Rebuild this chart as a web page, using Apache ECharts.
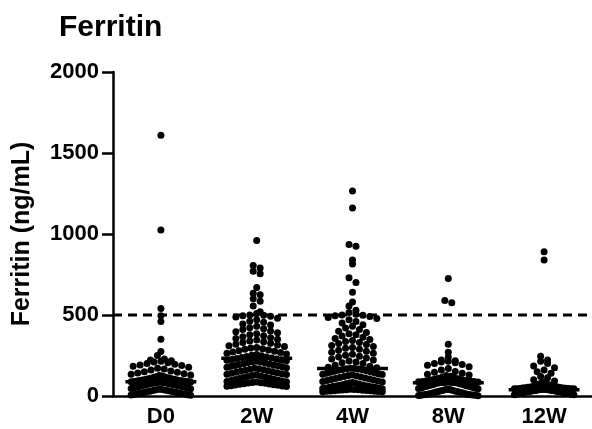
<!DOCTYPE html>
<html>
<head>
<meta charset="utf-8">
<script src="https://cdn.jsdelivr.net/npm/echarts@6/dist/echarts.min.js"></script>
<style>html,body{margin:0;padding:0;background:#fff}#c{width:592px;height:429px}</style>
</head>
<body>
<div id="c"></div>
<script>
const CATEGORIES = ['D0', '2W', '4W', '8W', '12W'];
const TITLE = 'Ferritin';
const Y_NAME = 'Ferritin (ng/mL)';
const THRESHOLD = 500;

const D0 = [1610,1025,540,495,460,350,275,250,228,222,218,214,210,206,200,196,192,188,184,178,172,166,160,155,150,146,142,138,134,130,127,124,121,118,115,112,110,108,106,104,102,100,98,96,95,94,92,91,90,89,88,87,86,85,84,83,82,80,79,78,76,75,74,72,70,69,68,66,65,63,62,60,58,57,55,53,52,50,48,46,44,42,40,38,36,34,32,30,28,26,24,22,20,18,16,14,12,10,8,6,4];
const W2 = [960,805,790,770,755,670,635,625,600,585,555,520,510,500,498,495,492,488,480,470,462,455,445,438,430,422,415,410,402,396,390,384,378,372,366,360,355,350,345,340,335,330,325,320,315,310,305,300,296,292,288,284,280,276,272,268,264,260,256,252,248,244,240,237,234,
  231,228,225,222,220,218,215,212,210,207,204,201,198,195,192,189,186,183,180,177,174,171,168,165,162,159,156,153,150,147,144,141,138,135,132,129,126,123,120,117,114,111,108,105,102,99,96,93,90,88,86,84,82,80,78,76,74,72,70,68,66,64,62,60,58];
const W4 = [1265,1160,935,925,840,815,730,700,640,580,555,530,515,505,500,498,495,490,485,478,470,460,450,440,430,420,410,400,392,385,378,370,362,355,348,342,336,330,324,318,312,306,300,294,288,282,276,270,264,258,252,246,240,234,228,222,216,210,205,200,190,184,178,174,171,
  170,168,166,164,162,159,156,153,150,147,144,141,138,135,132,129,126,123,120,117,114,111,108,105,102,99,96,93,90,87,84,81,78,75,72,70,68,66,64,62,60,58,56,54,52,50,48,46,44,42,40,39,38,37,36,35,34,33,32,31,30,29,28,27,26];
const W8 = [725,590,575,320,270,240,222,218,214,210,205,200,195,190,180,170,160,152,146,140,135,130,126,122,118,114,110,107,104,101,98,96,94,92,90,89,88,87,86,85,85,84,84,83,83,
  82,80,78,76,74,72,70,68,66,64,62,60,58,56,54,52,50,48,46,44,42,40,38,36,34,32,30,28,26,24,22,20,18,16,14,12,10,9,8,7,6,5,4,3,2];
const W12 = [890,840,245,222,215,200,185,175,160,150,140,120,112,100,92,85,80,76,72,68,65,62,60,58,56,55,54,52,51,50,49,48,47,46,45,45,44,44,43,43,42,42,41,41,40,40,40,39,39,38,
  38,37,37,36,36,35,35,34,34,33,33,32,32,31,31,30,30,29,29,28,28,27,27,26,26,25,25,24,24,23,23,22,22,21,21,20,20,19,18,17,16,15,14,13,12,11,10,9,8,7];
const GROUPS = [D0, W2, W4, W8, W12];

// layout constants
const GRID = { left: 113, top: 72, width: 483, height: 324 };
const Y_MAX = 2000;
const DOT = 7;
const HALF_W = 30;
const MED_HALF = 0.37;
const UNITS_PER_PX_Y = Y_MAX / GRID.height;
const PX_PER_X = GRID.width / CATEGORIES.length;

function swarm(values, ci) {
  const binH = DOT * UNITS_PER_PX_Y;
  const bins = new Map();
  values.forEach(v => {
    const b = Math.floor(v / binH);
    if (!bins.has(b)) bins.set(b, []);
    bins.get(b).push(v);
  });
  const pts = [];
  bins.forEach(arr => {
    arr.sort((a, b) => b - a);
    const n = arr.length;
    const s = n > 1 ? Math.min(DOT, 2 * HALF_W / (n - 1)) : 0;
    const slots = [];
    for (let k = 0; k < n; k++) slots.push((k - (n - 1) / 2) * s);
    slots.sort((a, b) => Math.abs(a) - Math.abs(b) || a - b);
    arr.forEach((v, i) => pts.push([ci + slots[i] / PX_PER_X, v]));
  });
  return pts;
}
function median(values) {
  const a = values.slice().sort((x, y) => x - y);
  const m = Math.floor(a.length / 2);
  return a.length % 2 ? a[m] : (a[m - 1] + a[m]) / 2;
}

const series = [];
GROUPS.forEach((vals, ci) => {
  series.push({
    type: 'scatter', xAxisIndex: 1, yAxisIndex: 0,
    data: swarm(vals, ci), symbolSize: DOT,
    itemStyle: { color: '#000', opacity: 1 }, silent: true, z: 3
  });
  const med = median(vals);
  series.push({
    type: 'line', xAxisIndex: 1, yAxisIndex: 0,
    data: [[ci - MED_HALF, med], [ci + MED_HALF, med]],
    symbol: 'none', lineStyle: { color: '#000', width: 3.5 }, silent: true, z: 4
  });
});
series.push({
  type: 'line', xAxisIndex: 1, yAxisIndex: 0,
  data: [[-0.5, THRESHOLD], [CATEGORIES.length - 0.5, THRESHOLD]],
  symbol: 'none', lineStyle: { color: '#000', width: 3, type: [9, 6] }, silent: true, z: 2
});

const chart = echarts.init(document.getElementById('c'));
chart.setOption({
  animation: false,
  backgroundColor: '#fff',
  title: {
    text: TITLE, left: 54, top: 8,
    textStyle: { fontFamily: 'Liberation Sans', fontWeight: 'bold', fontSize: 30, color: '#000' }
  },
  grid: GRID,
  xAxis: [{
    type: 'category', data: CATEGORIES, boundaryGap: true,
    axisLine: { onZero: false, lineStyle: { color: '#000', width: 2.5 } },
    axisTick: { alignWithLabel: true, length: 9, lineStyle: { color: '#000', width: 2.5 } },
    axisLabel: { color: '#000', fontFamily: 'Liberation Sans', fontWeight: 'bold', fontSize: 22, margin: 10 },
    splitLine: { show: false }
  }, {
    type: 'value', min: -0.5, max: CATEGORIES.length - 0.5, show: false
  }],
  yAxis: [{
    type: 'value', min: 0, max: Y_MAX, interval: 500,
    name: Y_NAME, nameLocation: 'middle', nameGap: 78, nameRotate: 90,
    nameTextStyle: { color: '#000', fontFamily: 'Liberation Sans', fontWeight: 'bold', fontSize: 25 },
    axisLine: { show: true, onZero: false, lineStyle: { color: '#000', width: 2.5 } },
    axisTick: { show: true, length: 11, lineStyle: { color: '#000', width: 2.5 } },
    axisLabel: { color: '#000', fontFamily: 'Liberation Sans', fontWeight: 'bold', fontSize: 22, margin: 14,
      formatter: v => String(v) },
    splitLine: { show: false }
  }],
  series: series
});
</script>
</body>
</html>
